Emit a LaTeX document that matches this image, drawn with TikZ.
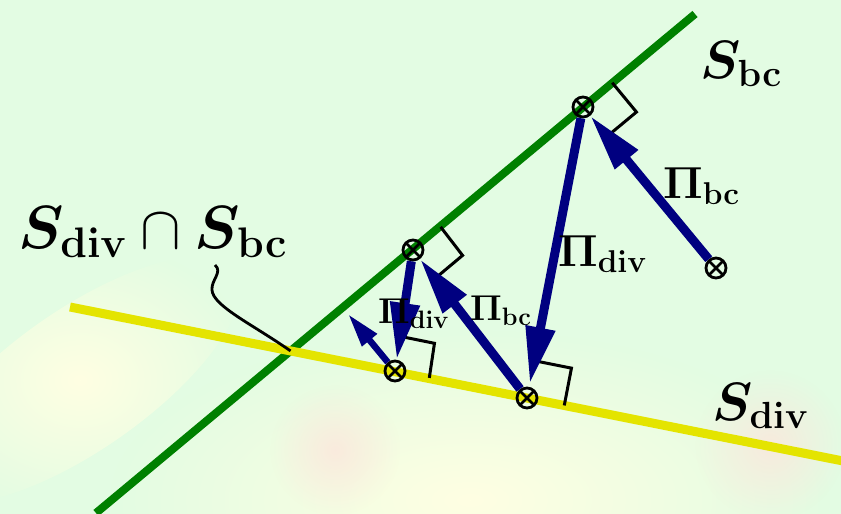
\RequirePackage{fix-cm}
\documentclass[tikz,border=0pt]{standalone}
\usepackage{amsmath,bm}
\usetikzlibrary{calc,arrows.meta,fadings}

\definecolor{bgcol}{RGB}{227,252,227}
\definecolor{paleyellow}{RGB}{255,255,226}
\definecolor{palepink}{RGB}{252,230,220}
\definecolor{bcgreen}{RGB}{0,128,0}
\definecolor{divyellow}{RGB}{228,228,0}
\definecolor{projblue}{RGB}{0,0,128}

\tikzfading[name=softblob, inner color=transparent!0, outer color=transparent!100]

\tikzset{
  otimes/.style={circle, draw, line width=2.8pt, minimum size=20pt, inner sep=0pt,
    path picture={\draw[line width=2.5pt]
      (path picture bounding box.north west) -- (path picture bounding box.south east)
      (path picture bounding box.north east) -- (path picture bounding box.south west);}},
  proj/.style={line width=9pt, projblue, -{Triangle[length=57pt,width=28pt]}},
  rangle/.style={line width=3pt, black},
  blob/.style={path fading=softblob},
  biglbl/.style={inner sep=0pt, anchor=base west, font=\fontsize{54}{60}\selectfont},
  plbl/.style={inner sep=0pt, anchor=base west, font=\fontsize{45}{50}\selectfont},
  smlbl/.style={inner sep=0pt, anchor=base west, font=\fontsize{36}{40}\selectfont}
}

\begin{document}
\begin{tikzpicture}[x=1pt, y=-1pt]
  % background
  \fill[bgcol] (0,0) rectangle (841,514);
  \useasboundingbox (0,0) rectangle (841,514);
  \fill[paleyellow, blob] (470,500) ellipse (360 and 170);
  \fill[paleyellow, blob, rotate around={35:(80,380)}] (80,380) ellipse (190 and 70);
  \fill[palepink, blob, opacity=0.8] (335,450) circle (65);
  \fill[palepink, blob, opacity=0.8] (770,445) circle (75);

  % the two sets
  \coordinate (g1) at (96,513);
  \coordinate (g2) at (695,14);
  \coordinate (y1) at (70,307);
  \coordinate (y2) at (843,461);
  \draw[bcgreen, line width=8pt] (g1) -- (g2);
  \draw[divyellow, line width=9pt] (y1) -- (y2);
  \coordinate (X) at (intersection of g1--g2 and y1--y2);

  % iterates
  \node[otimes] (pA) at (716,268) {};
  \node[otimes] (pB) at (583,107) {};
  \node[otimes] (pC) at (527,398) {};
  \node[otimes] (pD) at (413,250) {};
  \node[otimes] (pE) at (395,371) {};
  \coordinate (pF) at (348,314);

  % right angles
  \coordinate (mB1) at ($(pB)!38pt!(g2)$);
  \coordinate (mB2) at ($(pB)!38pt!(pA)$);
  \draw[rangle] (mB1) -- ($(mB1)+(mB2)-(pB)$) -- (mB2);
  \coordinate (mD1) at ($(pD)!36pt!(g2)$);
  \coordinate (mD2) at ($(pD)!36pt!(pC)$);
  \draw[rangle] (mD1) -- ($(mD1)+(mD2)-(pD)$) -- (mD2);
  \coordinate (mC1) at ($(pC)!38pt!(pB)$);
  \coordinate (mC2) at ($(pC)!38pt!(y2)$);
  \draw[rangle] (mC1) -- ($(mC1)+(mC2)-(pC)$) -- (mC2);
  \coordinate (mE1) at ($(pE)!35pt!(pD)$);
  \coordinate (mE2) at ($(pE)!35pt!(y2)$);
  \draw[rangle] (mE1) -- ($(mE1)+(mE2)-(pE)$) -- (mE2);

  % projections
  \draw[proj] (pA) -- (pB);
  \draw[proj, shorten >=3pt] (pB) -- (pC);
  \draw[proj] (pC) -- (pD);
  \draw[proj] (pD) -- (pE);
  \draw[line width=6.5pt, projblue, -{Triangle[length=34pt,width=18pt]}] (pE) -- (pF);

  % labels
  \node[biglbl] (lSbc) at (700,78) {$\boldsymbol{S}_{\mathbf{bc}}$};
  \node[biglbl] (lSdiv) at (712,420) {$\boldsymbol{S}_{\mathbf{div}}$};
  \node[biglbl, font=\fontsize{61}{66}\selectfont] (lInt) at (18,248)
    {$\boldsymbol{S}_{\mathbf{div}}\cap\boldsymbol{S}_{\mathbf{bc}}$};
  \node[plbl] (lPbcA) at (663,198) {$\mathbf{\Pi}_{\mathbf{bc}}$};
  \node[plbl] (lPdivB) at (558,266) {$\mathbf{\Pi}_{\mathbf{div}}$};
  \node[smlbl] (lPbcC) at (470,320) {$\mathbf{\Pi}_{\mathbf{bc}}$};
  \node[smlbl] (lPdivD) at (378,323) {$\mathbf{\Pi}_{\mathbf{div}}$};

  % pointer to the intersection
  \coordinate (cS) at (215,265);
  \draw[line width=2.8pt] (cS) .. controls (223,272) and (211,280) .. (212,290)
    .. controls (213,306) and (252,324) .. (X);
\end{tikzpicture}
\end{document}
